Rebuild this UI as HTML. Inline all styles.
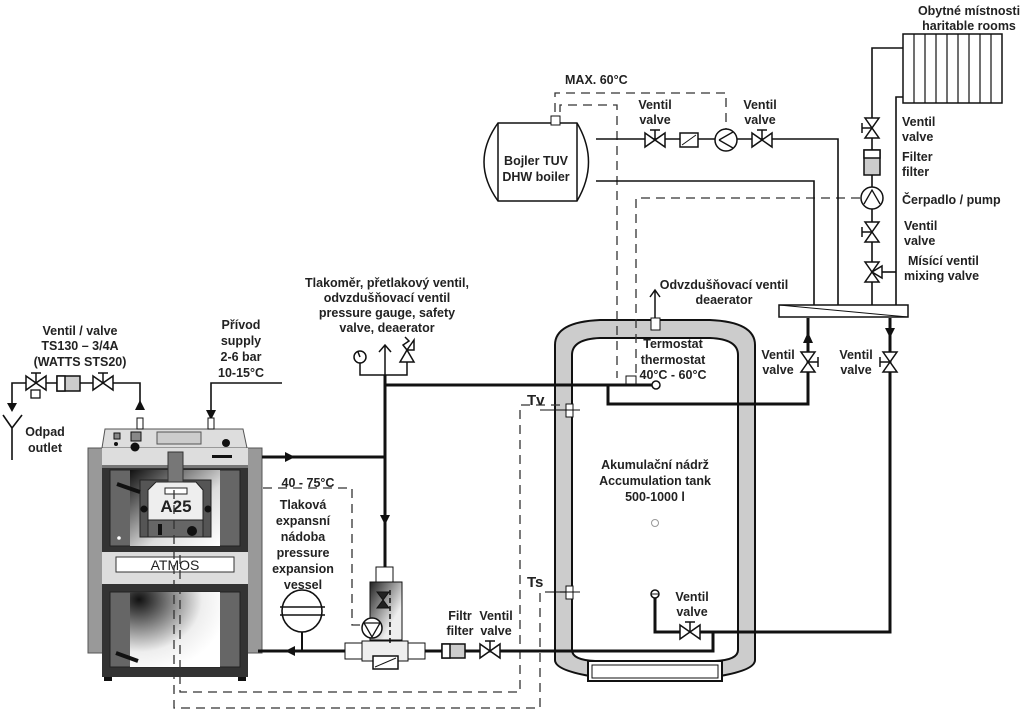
<!DOCTYPE html>
<html><head><meta charset="utf-8"><style>
html,body{margin:0;padding:0;background:#fff;}
svg{display:block;}
text{font-family:"Liberation Sans",Arial,sans-serif;font-weight:bold;font-size:12.5px;fill:#222;}
</style></head><body>
<svg width="1024" height="711" viewBox="0 0 1024 711" xmlns="http://www.w3.org/2000/svg">
<defs>
<linearGradient id="g1" x1="0" y1="0" x2="1" y2="1"><stop offset="0" stop-color="#111"/><stop offset="0.6" stop-color="#ddd"/><stop offset="1" stop-color="#fff"/></linearGradient>
<radialGradient id="g2" cx="0.1" cy="0.1" r="1"><stop offset="0" stop-color="#111"/><stop offset="0.7" stop-color="#eee"/><stop offset="1" stop-color="#fff"/></radialGradient>
<linearGradient id="g3" x1="0" y1="0" x2="1" y2="1"><stop offset="0" stop-color="#222"/><stop offset="0.7" stop-color="#eee"/></linearGradient>
<g id="valveH"><path d="M-10,-7 L10,7 L10,-7 L-10,7 Z" fill="#fff" stroke="#111" stroke-width="1.5"/><path d="M0,0 V-10 M-5,-10 H5" stroke="#111" stroke-width="1.5"/></g>
<g id="valveV"><path d="M-7,-10 L7,10 L-7,10 L7,-10 Z" fill="#fff" stroke="#111" stroke-width="1.5"/><path d="M0,0 H-10 M-10,-5 V5" stroke="#111" stroke-width="1.5"/></g>
</defs>

<!-- ===== BOILER ===== -->
<rect x="88" y="448" width="174" height="205" fill="#999" stroke="#555"/>
<rect x="102" y="448" width="146" height="229" fill="#333"/>
<rect x="104" y="677" width="8" height="4" fill="#111"/><rect x="238" y="677" width="8" height="4" fill="#111"/>
<path d="M105,429 H243 L247,448 H102 Z" fill="#ddd" stroke="#555"/>
<rect x="102" y="448" width="146" height="17" fill="#ddd"/>
<rect x="102" y="465" width="146" height="3" fill="#777"/>
<rect x="114" y="433" width="6" height="6" fill="#888" stroke="#111"/><circle cx="116" cy="444" r="2" fill="#111"/>
<rect x="131" y="432" width="10" height="9" fill="#888" stroke="#111"/><circle cx="135" cy="447" r="4.5" fill="#111"/>
<rect x="157" y="432" width="44" height="12" fill="#ccc" stroke="#555"/>
<circle cx="226" cy="443" r="4" fill="#111"/>
<rect x="212" y="455" width="20" height="3" fill="#111"/>
<rect x="110" y="470" width="130" height="76" fill="#666" stroke="#222"/>
<rect x="130" y="470" width="90" height="76" fill="url(#g1)"/>
<rect x="140" y="480" width="71" height="57" fill="#555" stroke="#222"/>
<path d="M148,490 L156,482 H196 L203,490 V520 H148 Z" fill="#eee" stroke="#222"/>
<rect x="148" y="520" width="55" height="17" fill="#666" stroke="#222"/>
<rect x="165" y="488" width="22" height="6" fill="#fff" stroke="#222"/>
<text x="176" y="512" text-anchor="middle" style="font-size:17px" fill="#111">A25</text>
<circle cx="144" cy="509" r="3.5" fill="#111"/><circle cx="208" cy="509" r="3.5" fill="#111"/>
<rect x="158" y="524" width="4" height="11" fill="#111"/><circle cx="192" cy="531" r="5" fill="#111"/>
<rect x="168" y="452" width="15" height="30" fill="#777" stroke="#333"/>
<circle cx="119" cy="538" r="1.8" fill="#fff"/>
<path d="M117,484 L140,492" stroke="#111" stroke-width="4"/>
<rect x="102" y="552" width="146" height="32" fill="#ddd"/>
<rect x="116" y="557" width="118" height="15" fill="#fff" stroke="#333"/>
<text x="175" y="570" text-anchor="middle" style="font-size:14px;font-weight:normal">ATMOS</text>
<rect x="110" y="592" width="130" height="75" fill="#666" stroke="#222"/>
<rect x="130" y="592" width="90" height="75" fill="url(#g2)"/>
<path d="M116,653 L138,661" stroke="#111" stroke-width="4"/>

<!-- ===== TANK ===== -->
<path d="M555,660 V345 Q555,322 600,320 H710 Q755,322 755,345 V660 Q755,670 720,676 H590 Q555,670 555,660 Z" fill="#ccc" stroke="#111" stroke-width="2"/>
<path d="M572,650 V355 Q572,339 600,338 H710 Q738,339 738,355 V650 Q738,660 715,661 H595 Q572,660 572,650 Z" fill="#fff" stroke="#111" stroke-width="2"/>
<rect x="588" y="661" width="134" height="20" fill="#fff" stroke="#111" stroke-width="2"/>
<rect x="592" y="665" width="126" height="13" fill="#fff" stroke="#111"/>
<rect x="651" y="318" width="9" height="12" fill="#fff" stroke="#111"/>
<path d="M655,318 V290 M650,297 L655,290 L660,297" fill="none" stroke="#111" stroke-width="1.5"/>

<!-- dashed lines -->
<g fill="none" stroke="#333" stroke-width="1.3" stroke-dasharray="9,6">
<path d="M174,490 V708 H540 V592 H566"/>
<path d="M180,555 V692 H520 V405 H566"/>
<path d="M263,488 H352 V625 H364"/>
<path d="M555,112 V93 H726 V130"/>
<path d="M560,112 V105 H617 V378"/>
<path d="M860,198 H636 V378"/>
</g>

<rect x="566" y="404" width="7" height="13" fill="#fff" stroke="#111"/><path d="M540,410 H580" stroke="#111"/>
<rect x="566" y="586" width="7" height="13" fill="#fff" stroke="#111"/><path d="M555,592 H580" stroke="#111"/>

<!-- top-left supply / safety -->
<g fill="none" stroke="#111" stroke-width="1.6">
<path d="M12,405 V383 H140 V410"/>
<path d="M3,415 L12,428 L22,415 M12,428 V460"/>
<path d="M282,383 H211 V410"/>
</g>
<path d="M7,403 H17 L12,412 Z" fill="#111"/>
<path d="M135,410 H145 L140,400 Z" fill="#111"/>
<path d="M206,410 H216 L211,420 Z" fill="#111"/>
<rect x="137" y="418" width="6" height="11" fill="#fff" stroke="#111"/>
<rect x="208" y="418" width="6" height="11" fill="#fff" stroke="#111"/>
<use href="#valveH" x="36" y="383"/>
<rect x="31" y="390" width="9" height="8" fill="#fff" stroke="#111" stroke-width="1.3"/>
<rect x="57" y="376" width="23" height="15" fill="#ccc" stroke="#111" stroke-width="1.5"/><rect x="57" y="376" width="8" height="15" fill="#fff" stroke="#111" stroke-width="1.5"/>
<use href="#valveH" x="103" y="383"/>

<!-- main pipes -->
<g fill="none" stroke="#111" stroke-width="3">
<path d="M262,457 H385"/>
<path d="M385,375 V567"/>
<path d="M385,385 H652"/>
<path d="M608,385 V404 H808 V318"/>
<path d="M890,318 V632 H700"/>
<path d="M655,598 V632 H682"/>
<path d="M713,632 V651 H258"/>
</g>
<rect x="626" y="376" width="10" height="8" fill="#fff" stroke="#111"/>
<circle cx="656" cy="385" r="4" fill="#fff" stroke="#111" stroke-width="1.5"/>
<circle cx="655" cy="594" r="4" fill="#fff" stroke="#111" stroke-width="1.5"/><path d="M651,594 H659" stroke="#111"/>
<circle cx="655" cy="523" r="3.5" fill="none" stroke="#999"/>
<use href="#valveH" x="690" y="632"/>
<path d="M285,452 V462 L295,457 Z" fill="#111"/>
<path d="M380,515 H390 L385,525 Z" fill="#111"/>
<path d="M295,646 V656 L285,651 Z" fill="#111"/>
<path d="M803,343 H813 L808,332 Z" fill="#111"/>
<path d="M885,328 H895 L890,338 Z" fill="#111"/>
<!-- top branch -->
<g fill="none" stroke="#111" stroke-width="1.5">
<path d="M360,363 V375 H407 V362"/>
<path d="M385,375 V345 M379,352 L385,345 L391,352"/>
<circle cx="360" cy="357" r="6" fill="#fff"/>
<path d="M360,357 L358,352"/>
<path d="M400,362 L407,350 L414,362 Z M407,350 L414,340 V350 Z"/>
<path d="M407,350 L403,345 L409,341 L405,337"/>
</g>
<!-- expansion vessel -->
<path d="M302,632 V651" stroke="#111" stroke-width="2"/>
<ellipse cx="302" cy="611" rx="20" ry="21" fill="#fff" stroke="#111" stroke-width="1.6"/>
<path d="M280,607 H325 M280,615 H325" stroke="#111" stroke-width="1.6"/>
<!-- pump module -->
<rect x="376" y="567" width="17" height="15" fill="#fff" stroke="#111"/>
<path d="M370,582 H402 V640 H370 Z" fill="url(#g3)" stroke="#111"/>
<path d="M377,592 L389,608 L377,608 L389,592 Z" fill="#222" stroke="#111"/>
<circle cx="372" cy="628" r="10" fill="#fff" stroke="#111" stroke-width="1.5"/>
<path d="M364,623 H380 L372,637 Z" fill="none" stroke="#111" stroke-width="1.3"/>
<rect x="345" y="643" width="80" height="16" fill="#fff" stroke="#111"/>
<rect x="362" y="641" width="46" height="20" fill="#eee" stroke="#111"/>
<rect x="373" y="656" width="25" height="13" fill="#fff" stroke="#111" stroke-width="1.5"/>
<path d="M375,667 L396,658" stroke="#111"/>
<path d="M390,590 V645" stroke="#111" stroke-dasharray="5,3" stroke-width="1.5"/>
<path d="M425,651 H442" stroke="#111" stroke-width="3"/>
<rect x="442" y="644" width="23" height="14" fill="#ccc" stroke="#111" stroke-width="1.5"/><rect x="442" y="644" width="8" height="14" fill="#fff" stroke="#111" stroke-width="1.5"/>
<path d="M465,651 H480 M500,651 H560" stroke="#111" stroke-width="3"/>
<use href="#valveH" x="490" y="651"/>

<!-- ===== DHW BOILER ===== -->
<path d="M498,123 H577 Q600,162 577,201 H498 Q470,162 498,123 Z" fill="#fff" stroke="#111" stroke-width="1.5"/>
<path d="M498,123 V201 M577,123 V201" stroke="#111" stroke-width="1.5"/>
<rect x="551" y="116" width="9" height="9" fill="#fff" stroke="#111"/>
<g fill="none" stroke="#111" stroke-width="1.6">
<path d="M596,139 H838 V305"/>
<path d="M596,181 H814 V305"/>
<path d="M872,305 V48 H903"/>
<path d="M896,305 V97 H903"/>
<path d="M896,272 H880"/>
</g>
<use href="#valveH" x="655" y="140"/>
<rect x="680" y="133" width="18" height="14" fill="#fff" stroke="#111" stroke-width="1.5"/><path d="M682,145 L696,135" stroke="#111"/>
<circle cx="726" cy="140" r="11" fill="#fff" stroke="#111" stroke-width="1.5"/><path d="M719,140 L733,132 M719,140 L733,148" stroke="#111" stroke-width="1.3"/>
<use href="#valveH" x="762" y="140"/>
<!-- right column -->
<use href="#valveV" x="872" y="128"/>
<rect x="864" y="150" width="16" height="25" fill="#ccc" stroke="#111" stroke-width="1.5"/><rect x="864" y="150" width="16" height="8" fill="#fff" stroke="#111" stroke-width="1.5"/>
<circle cx="872" cy="198" r="11" fill="#fff" stroke="#111" stroke-width="1.5"/><path d="M864,204 L872,190 L880,204" fill="none" stroke="#111" stroke-width="1.3"/>
<use href="#valveV" x="872" y="232"/>
<path d="M865,262 L879,282 L865,282 L879,262 Z" fill="#fff" stroke="#111" stroke-width="1.5"/>
<path d="M872,272 L882,266 V278 Z" fill="#fff" stroke="#111" stroke-width="1.5"/>
<!-- radiator -->
<rect x="903" y="34" width="99" height="69" fill="#fff" stroke="#111" stroke-width="1.5"/>
<g stroke="#111" stroke-width="1.2"><path d="M914,34V103M925,34V103M936,34V103M947,34V103M958,34V103M969,34V103M980,34V103M991,34V103"/></g>
<!-- distributor -->
<rect x="779" y="305" width="129" height="12" fill="#fff" stroke="#111" stroke-width="1.5"/>
<path d="M779,305 L908,317" stroke="#111"/>
<g transform="translate(808,362) scale(-1,1)"><use href="#valveV"/></g>
<use href="#valveV" x="890" y="362"/>

<!-- ===== TEXT ===== -->
<g text-anchor="middle">
<text x="80" y="335">Ventil / valve</text>
<text x="80" y="350">TS130 – 3/4A</text>
<text x="80" y="366">(WATTS STS20)</text>
<text x="45" y="436">Odpad</text><text x="45" y="452">outlet</text>
<text x="241" y="329">Přívod</text><text x="241" y="345">supply</text><text x="241" y="361">2-6 bar</text><text x="241" y="377">10-15°C</text>
<text x="387" y="287">Tlakoměr, přetlakový ventil,</text>
<text x="387" y="302">odvzdušňovací ventil</text>
<text x="387" y="317">pressure gauge, safety</text>
<text x="387" y="332">valve, deaerator</text>
<text x="308" y="487">40 - 75°C</text>
<text x="303" y="509">Tlaková</text><text x="303" y="525">expansní</text><text x="303" y="541">nádoba</text><text x="303" y="557">pressure</text><text x="303" y="573">expansion</text><text x="303" y="589">vessel</text>
<text x="460" y="620">Filtr</text><text x="460" y="635">filter</text>
<text x="496" y="620">Ventil</text><text x="496" y="635">valve</text>
<text x="655" y="469">Akumulační nádrž</text><text x="655" y="485">Accumulation tank</text><text x="655" y="501">500-1000 l</text>
<text x="692" y="601">Ventil</text><text x="692" y="616">valve</text>
<text x="673" y="348">Termostat</text><text x="673" y="364">thermostat</text><text x="673" y="379">40°C - 60°C</text>
<text x="724" y="289">Odvzdušňovací ventil</text><text x="724" y="304">deaerator</text>
<text x="536" y="165">Bojler TUV</text><text x="536" y="181">DHW boiler</text>
<text x="655" y="109">Ventil</text><text x="655" y="124">valve</text>
<text x="760" y="109">Ventil</text><text x="760" y="124">valve</text>
<text x="778" y="359">Ventil</text><text x="778" y="374">valve</text>
<text x="856" y="359">Ventil</text><text x="856" y="374">valve</text>
<text x="969" y="15">Obytné místnosti</text><text x="969" y="30">haritable rooms</text>
</g>
<text x="565" y="84">MAX. 60°C</text>
<text x="527" y="405" style="font-size:15px">Tv</text>
<text x="527" y="587" style="font-size:15px">Ts</text>
<text x="902" y="126">Ventil</text><text x="902" y="141">valve</text>
<text x="902" y="161">Filter</text><text x="902" y="176">filter</text>
<text x="902" y="204">Čerpadlo / pump</text>
<text x="904" y="230">Ventil</text><text x="904" y="245">valve</text>
<text x="908" y="265">Mísící ventil</text><text x="904" y="280">mixing valve</text>
</svg>
</body></html>
